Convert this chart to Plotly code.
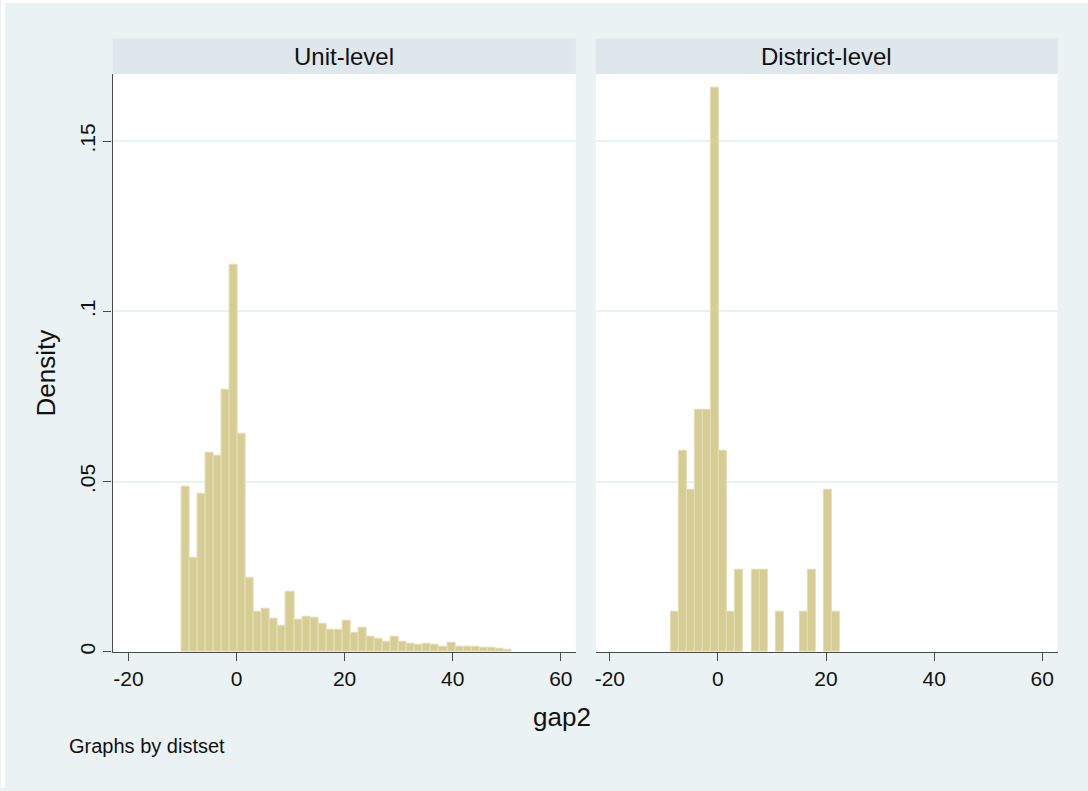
import plotly.graph_objects as go

# Shared histogram bins for both panels (gap2)
bin_start = -10.2
bin_width = 1.49

# Density per bin, Unit-level (bins 0..40)
unit_density = [0.0486, 0.0275, 0.0463, 0.0585, 0.0575, 0.0769, 0.1137, 0.0640,
                0.0219, 0.0119, 0.0126, 0.0096, 0.0077, 0.0177, 0.0094, 0.0104,
                0.0101, 0.0083, 0.0066, 0.0066, 0.0090, 0.0056, 0.0070, 0.0045,
                0.0039, 0.0029, 0.0044, 0.0031, 0.0024, 0.0020, 0.0025, 0.0021,
                0.0015, 0.0027, 0.0015, 0.0014, 0.0014, 0.0013, 0.0011, 0.0009,
                0.0006]

# Density per bin, District-level (bins 1..21)
district_first_bin = 1
district_density = [0.0119, 0.0591, 0.0475, 0.0712, 0.0712, 0.1656, 0.0591, 0.0119,
                    0.0240, 0.0, 0.0240, 0.0240, 0.0, 0.0119, 0.0, 0.0, 0.0119,
                    0.0240, 0.0, 0.0475, 0.0119]

panel_titles = ["Unit-level", "District-level"]
x_tickvals = [-20, 0, 20, 40, 60]
x_ticktext = ["-20", "0", "20", "40", "60"]
y_tickvals = [0, 0.05, 0.1, 0.15]
y_ticktext = ["0", ".05", ".1", ".15"]

W, H = 1088, 791
BG = "#EAF2F3"
STRIP = "#DDE7EC"
BAR = "rgb(214,205,149)"
BAR_EDGE = "rgb(228,221,180)"
AXIS = "#4a4a4a"
FONT = "Liberation Sans, Arial, Helvetica, sans-serif"


def nonempty_bins(first, dens):
    """Centres and heights of bins with a non-zero density."""
    xs, ys = [], []
    for i, d in enumerate(dens):
        if d > 0:
            xs.append(bin_start + bin_width * (first + i + 0.5))
            ys.append(d)
    return xs, ys


def px_x(p):
    return p / W


def px_y(p):
    return 1 - p / H


fig = go.Figure()

ux, uy = nonempty_bins(0, unit_density)
fig.add_trace(go.Bar(
    x=ux, y=uy, width=bin_width,
    marker=dict(color=BAR, line=dict(color=BAR_EDGE, width=1)),
    xaxis="x", yaxis="y", showlegend=False, hoverinfo="skip"))

dx, dy = nonempty_bins(district_first_bin, district_density)
fig.add_trace(go.Bar(
    x=dx, y=dy, width=bin_width,
    marker=dict(color=BAR, line=dict(color=BAR_EDGE, width=1)),
    xaxis="x2", yaxis="y2", showlegend=False, hoverinfo="skip"))

left = (111.7, 575.3)
right = (595.4, 1057.6)
plot_top, plot_bottom = 74, 654.3
strip_top = 39

xaxis_common = dict(
    tickvals=x_tickvals, ticktext=x_ticktext, ticks="outside", ticklen=8,
    tickwidth=1.2, tickcolor=AXIS, showline=True, linecolor=AXIS, linewidth=1.2,
    showgrid=False, zeroline=False,
    tickfont=dict(family=FONT, size=21, color="#111"),
    fixedrange=True,
)

fig.update_layout(
    width=W, height=H,
    paper_bgcolor=BG, plot_bgcolor="white",
    margin=dict(l=0, r=0, t=0, b=0),
    bargap=0,
    xaxis=dict(domain=[px_x(left[0]), px_x(left[1])], range=[-22.92, 62.77],
               anchor="y", **xaxis_common),
    xaxis2=dict(domain=[px_x(right[0]), px_x(right[1])], range=[-22.59, 62.85],
                anchor="y2", **xaxis_common),
    yaxis=dict(domain=[px_y(plot_bottom), px_y(plot_top)], range=[0, 0.1698],
               anchor="x", tickvals=y_tickvals, ticktext=y_ticktext,
               tickangle=-90, ticks="outside", ticklen=8, tickwidth=1.2,
               tickcolor=AXIS, showline=True, linecolor=AXIS, linewidth=1.2,
               showgrid=True, gridcolor=BG, gridwidth=1.5, zeroline=False,
               tickfont=dict(family=FONT, size=21, color="#111")),
    yaxis2=dict(domain=[px_y(plot_bottom), px_y(plot_top)], range=[0, 0.1698],
                anchor="x2", matches="y", tickvals=y_tickvals, showticklabels=False,
                ticks="", showline=False, showgrid=True, gridcolor=BG,
                gridwidth=1.5, zeroline=False),
)

shapes = []
annotations = []
for (x0, x1), title in zip([left, right], panel_titles):
    shapes.append(dict(type="rect", xref="paper", yref="paper",
                       x0=px_x(x0), x1=px_x(x1), y0=px_y(plot_top), y1=px_y(strip_top),
                       fillcolor=STRIP, line=dict(width=0), layer="below"))
    annotations.append(dict(text=title, xref="paper", yref="paper",
                            x=px_x((x0 + x1) / 2), y=px_y((strip_top + plot_top) / 2),
                            xanchor="center", yanchor="middle", showarrow=False,
                            font=dict(family=FONT, size=24, color="#111")))

# thin white frame on the left and top edges
shapes.append(dict(type="rect", xref="paper", yref="paper", x0=0, x1=px_x(4),
                   y0=0, y1=1, fillcolor="white", line=dict(width=0), layer="below"))
shapes.append(dict(type="rect", xref="paper", yref="paper", x0=0, x1=1,
                   y0=px_y(3), y1=1, fillcolor="white", line=dict(width=0), layer="below"))

annotations.append(dict(text="Density", xref="paper", yref="paper",
                        x=px_x(45), y=px_y(374), textangle=-90,
                        xanchor="center", yanchor="middle", showarrow=False,
                        font=dict(family=FONT, size=26, color="#111")))
annotations.append(dict(text="gap2", xref="paper", yref="paper",
                        x=px_x(562), y=px_y(720),
                        xanchor="center", yanchor="middle", showarrow=False,
                        font=dict(family=FONT, size=26, color="#111")))
annotations.append(dict(text="Graphs by distset", xref="paper", yref="paper",
                        x=px_x(66), y=px_y(749),
                        xanchor="left", yanchor="middle", showarrow=False,
                        font=dict(family=FONT, size=20, color="#111")))

fig.update_layout(shapes=shapes, annotations=annotations)

fig.write_html("out.html")
